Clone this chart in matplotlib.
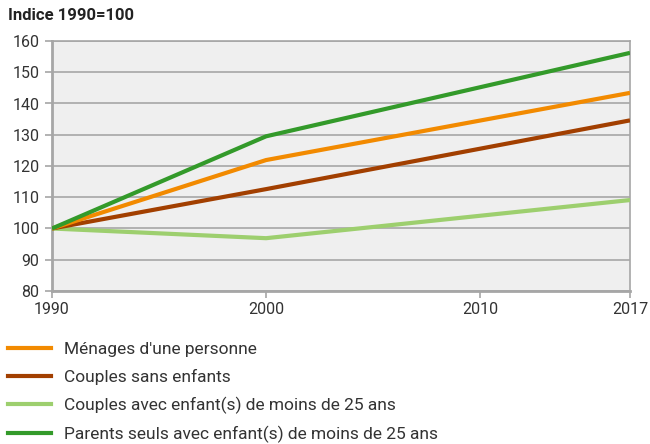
import matplotlib.pyplot as plt
from matplotlib.lines import Line2D

plt.rcParams['font.family'] = ['Roboto', 'DejaVu Sans']

years = [1990, 2000, 2017]
menages_une_personne = [100, 121.9, 143.4]
couples_sans_enfants = [100, 112.6, 134.6]
couples_avec_enfants = [100, 96.9, 109.1]
parents_seuls = [100, 129.5, 156.2]

labels = ["Ménages d'une personne", "Couples sans enfants",
          "Couples avec enfant(s) de moins de 25 ans",
          "Parents seuls avec enfant(s) de moins de 25 ans"]
colors = ['#f28a00', '#a23f00', '#9dcf6e', '#339a2a']
series = [menages_une_personne, couples_sans_enfants, couples_avec_enfants, parents_seuls]

fig = plt.figure(figsize=(6.5, 4.44), dpi=100)
ax = fig.add_axes([52 / 650, 1 - 291 / 444, 578 / 650, 250 / 444])
ax.set_facecolor('#efefef')

# light green first so the others sit on top
for i in [2, 1, 0, 3]:
    ax.plot(years, series[i], color=colors[i], lw=3, solid_capstyle='butt', zorder=3)

ax.set_xlim(1990, 2017)
ax.set_ylim(80, 160)
ax.set_yticks(range(80, 161, 10))
ax.set_xticks([1990, 2000, 2010, 2017])
ax.grid(axis='y', color='#a6a6a6', lw=1.2, zorder=1)
for s in ax.spines.values():
    s.set_color('#a6a6a6')
    s.set_linewidth(1.2)
ax.spines['left'].set_linewidth(2)
ax.spines['bottom'].set_linewidth(2)
ax.tick_params(axis='y', length=5, width=1.2, color='#a6a6a6', labelsize=11.5,
               labelcolor='#333333', pad=4)
ax.tick_params(axis='x', length=5, width=1.2, color='#a6a6a6', labelsize=11.5,
               labelcolor='#333333', pad=3)

fig.text(8 / 650, 1 - 16 / 444, 'Indice 1990=100', fontsize=12, fontweight='bold',
         color='#222222', va='center')

handles = [Line2D([], [], color=c, lw=3) for c in colors]
fig.legend(handles, labels, loc='upper left', bbox_to_anchor=(1 / 650, 1 - 335 / 444),
           frameon=False, fontsize=12.5, labelcolor='#333333', handlelength=2.5,
           handletextpad=0.75, labelspacing=0.68, borderaxespad=0)

fig.savefig('out.png', dpi=100)
